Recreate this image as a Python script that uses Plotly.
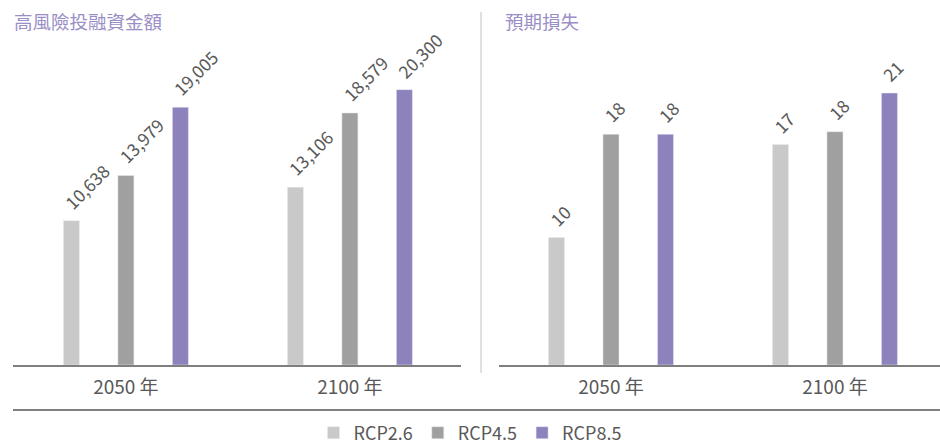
import plotly.graph_objects as go

W, H = 940, 445

years = ["2050 年", "2100 年"]
series_names = ["RCP2.6", "RCP4.5", "RCP8.5"]
series_colors = ["#C8C9C8", "#9FA09F", "#8E82BC"]

funding_rcp26 = [10638, 13106]
funding_rcp45 = [13979, 18579]
funding_rcp85 = [19005, 20300]

loss_rcp26 = [9.9, 17.1]
loss_rcp45 = [17.9, 18.1]
loss_rcp85 = [17.9, 21.1]

title_left = "高風險投融資金額"
title_right = "預期損失"

FONT = "Noto Sans CJK TC"
TEXT_COLOR = "#595959"
TITLE_COLOR = "#9A8EC6"
AXIS_COLOR = "#7F7F7F"

BARGAP = 0.27
BARGROUPGAP = 0.706

fig = go.Figure()

funding = [funding_rcp26, funding_rcp45, funding_rcp85]
loss = [loss_rcp26, loss_rcp45, loss_rcp85]

for k, (name, color) in enumerate(zip(series_names, series_colors)):
    fig.add_trace(go.Bar(x=years, y=funding[k], name=name, marker_color=color,
                         xaxis="x", yaxis="y", legendgroup=name, showlegend=True))
    fig.add_trace(go.Bar(x=years, y=loss[k], name=name, marker_color=color,
                         xaxis="x2", yaxis="y2", legendgroup=name, showlegend=False))

slot = (1 - BARGAP) / len(series_names)
annotations = []
for axis_suffix, data, fmt in (("", funding, "{:,.0f}"), ("2", loss, "{:.0f}")):
    for k, vals in enumerate(data):
        for i, v in enumerate(vals):
            annotations.append(dict(
                x=i + (k - 1) * slot, y=v, xref="x" + axis_suffix, yref="y" + axis_suffix,
                text=fmt.format(v), showarrow=False, textangle=-45,
                xanchor="left", yanchor="bottom", xshift=-15, yshift=4,
                font=dict(family=FONT, size=17.5, color=TEXT_COLOR)))

annotations.append(dict(x=12 / W, y=(H - 21) / H, xref="paper", yref="paper",
                        text=title_left, showarrow=False, xanchor="left", yanchor="middle",
                        font=dict(family=FONT, size=18.5, color=TITLE_COLOR)))
annotations.append(dict(x=503 / W, y=(H - 21) / H, xref="paper", yref="paper",
                        text=title_right, showarrow=False, xanchor="left", yanchor="middle",
                        font=dict(family=FONT, size=18.5, color=TITLE_COLOR)))

xaxis_common = dict(type="category", showline=True, linecolor=AXIS_COLOR, linewidth=2,
                    showgrid=False, zeroline=False, ticks="", ticklabelstandoff=4,
                    tickfont=dict(family=FONT, size=19, color=TEXT_COLOR), fixedrange=True)
yaxis_common = dict(visible=False, showgrid=False, zeroline=False, fixedrange=True)

fig.update_layout(
    width=W, height=H,
    margin=dict(l=0, r=0, t=0, b=0, autoexpand=False),
    paper_bgcolor="white", plot_bgcolor="white",
    barmode="group", bargap=BARGAP, bargroupgap=BARGROUPGAP,
    font=dict(family=FONT, color=TEXT_COLOR),
    xaxis=dict(domain=[13 / W, 461 / W], range=[-0.504, 1.496], **xaxis_common),
    xaxis2=dict(domain=[499 / W, 1], range=[-0.5, 1.469], anchor="y2", **xaxis_common),
    yaxis=dict(domain=[80 / H, 1], range=[0, 365 * 73.72], anchor="x", **yaxis_common),
    yaxis2=dict(domain=[80 / H, 1], range=[0, 365 / 12.89], anchor="x2", **yaxis_common),
    legend=dict(orientation="h", x=0.5, xanchor="center", y=(H - 433) / H, yanchor="middle",
                font=dict(family=FONT, size=18, color=TEXT_COLOR), bgcolor="rgba(0,0,0,0)"),
    annotations=annotations,
    shapes=[
        dict(type="line", xref="paper", yref="paper", x0=13 / W, x1=1,
             y0=(H - 410) / H, y1=(H - 410) / H, line=dict(color=AXIS_COLOR, width=2)),
        dict(type="line", xref="paper", yref="paper", x0=481 / W, x1=481 / W,
             y0=(H - 373) / H, y1=(H - 12) / H, line=dict(color="#C0C0C0", width=1)),
    ],
    showlegend=True,
)

fig.write_html("out.html", config={"displayModeBar": False},
               post_script="document.body.style.margin='0';document.body.style.overflow='hidden';")
